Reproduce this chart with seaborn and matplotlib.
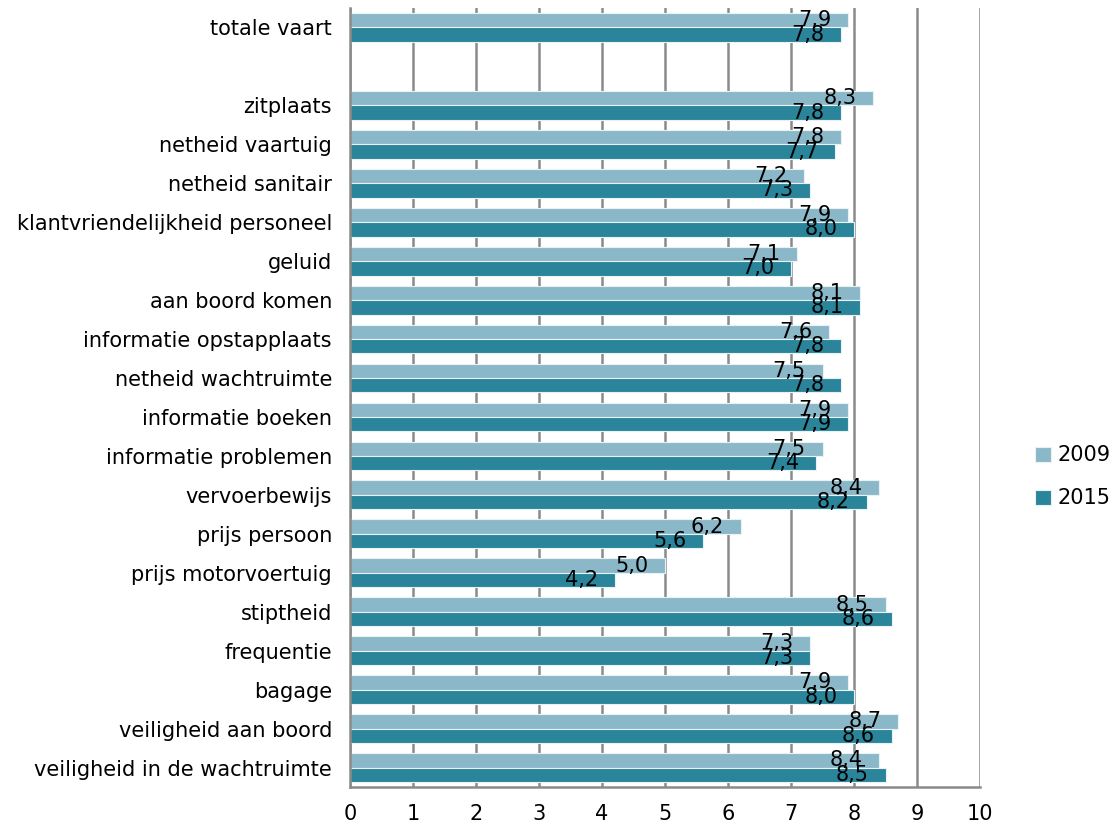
import matplotlib
matplotlib.use("Agg")
import matplotlib.pyplot as plt
import seaborn as sns
import pandas as pd
import numpy as np

categories = [
    "totale vaart", "", "zitplaats", "netheid vaartuig", "netheid sanitair",
    "klantvriendelijkheid personeel", "geluid", "aan boord komen",
    "informatie opstapplaats", "netheid wachtruimte", "informatie boeken",
    "informatie problemen", "vervoerbewijs", "prijs persoon",
    "prijs motorvoertuig", "stiptheid", "frequentie", "bagage",
    "veiligheid aan boord", "veiligheid in de wachtruimte",
]
scores_2009 = [7.9, np.nan, 8.3, 7.8, 7.2, 7.9, 7.1, 8.1, 7.6, 7.5, 7.9,
               7.5, 8.4, 6.2, 5.0, 8.5, 7.3, 7.9, 8.7, 8.4]
scores_2015 = [7.8, np.nan, 7.8, 7.7, 7.3, 8.0, 7.0, 8.1, 7.8, 7.8, 7.9,
               7.4, 8.2, 5.6, 4.2, 8.6, 7.3, 8.0, 8.6, 8.5]
years = ["2009", "2015"]
x_ticks = list(range(0, 11))

df = pd.DataFrame({
    "aspect": categories * 2,
    "score": scores_2009 + scores_2015,
    "jaar": [years[0]] * len(categories) + [years[1]] * len(categories),
}).dropna()

sns.set_style("white")
plt.rcParams["font.family"] = ["DejaVu Sans"]
plt.rcParams["font.size"] = 15
plt.rcParams["text.color"] = "black"
plt.rcParams["xtick.color"] = "black"
plt.rcParams["ytick.color"] = "black"

FS = 15
GRID = "#8A8A8A"

fig = plt.figure(figsize=(11.18, 8.27), dpi=100)
ax = fig.add_axes([350 / 1118, 1 - 787 / 827, 630 / 1118, 779 / 827])

palette = {"2009": "#8AB8C8", "2015": "#2A859B"}
sns.barplot(data=df, x="score", y="aspect", hue="jaar", order=categories,
            hue_order=years, palette=palette, orient="h", width=0.74,
            edgecolor="#E8F1F4", linewidth=0.8, saturation=1, ax=ax,
            errorbar=None)

# value labels with decimal comma, just inside the end of each bar
for container in ax.containers:
    for patch in container.patches:
        w = patch.get_width()
        if np.isnan(w) or w == 0:
            continue
        ax.annotate(f"{w:.1f}".replace(".", ","),
                    xy=(w, patch.get_y() + patch.get_height() / 2),
                    xytext=(-12, 0), textcoords="offset points",
                    ha="right", va="center", fontsize=FS, color="black")

ax.set_xlim(0, 10)
ax.set_ylim(len(categories) - 0.5, -0.5)
ax.set_xticks(x_ticks)
ax.set_xticklabels([str(t) for t in x_ticks])
ax.set_xlabel("")
ax.set_ylabel("")

ax.grid(axis="x", color=GRID, linewidth=1.8)
ax.grid(axis="y", visible=False)
ax.set_axisbelow(True)

for side in ["top", "right"]:
    ax.spines[side].set_visible(False)
for side in ["left", "bottom"]:
    ax.spines[side].set_color(GRID)
    ax.spines[side].set_linewidth(1.8)

ax.set_yticks(np.arange(len(categories) + 1) - 0.5, minor=True)
ax.tick_params(axis="y", which="major", length=0, pad=13, labelsize=FS,
               labelcolor="black")
ax.tick_params(axis="y", which="minor", length=7, width=1.8, color=GRID,
               direction="out")
ax.tick_params(axis="x", which="major", length=7, width=1.8, color=GRID,
               direction="out", labelsize=FS, pad=5, labelcolor="black")

handles, labels = ax.get_legend_handles_labels()
ax.legend(handles, labels, loc="center left", bbox_to_anchor=(1.058, 0.398),
          frameon=False, fontsize=FS, handlelength=0.75, handleheight=0.75,
          handletextpad=0.3, labelspacing=1.1)

fig.savefig("out.png", dpi=100)
